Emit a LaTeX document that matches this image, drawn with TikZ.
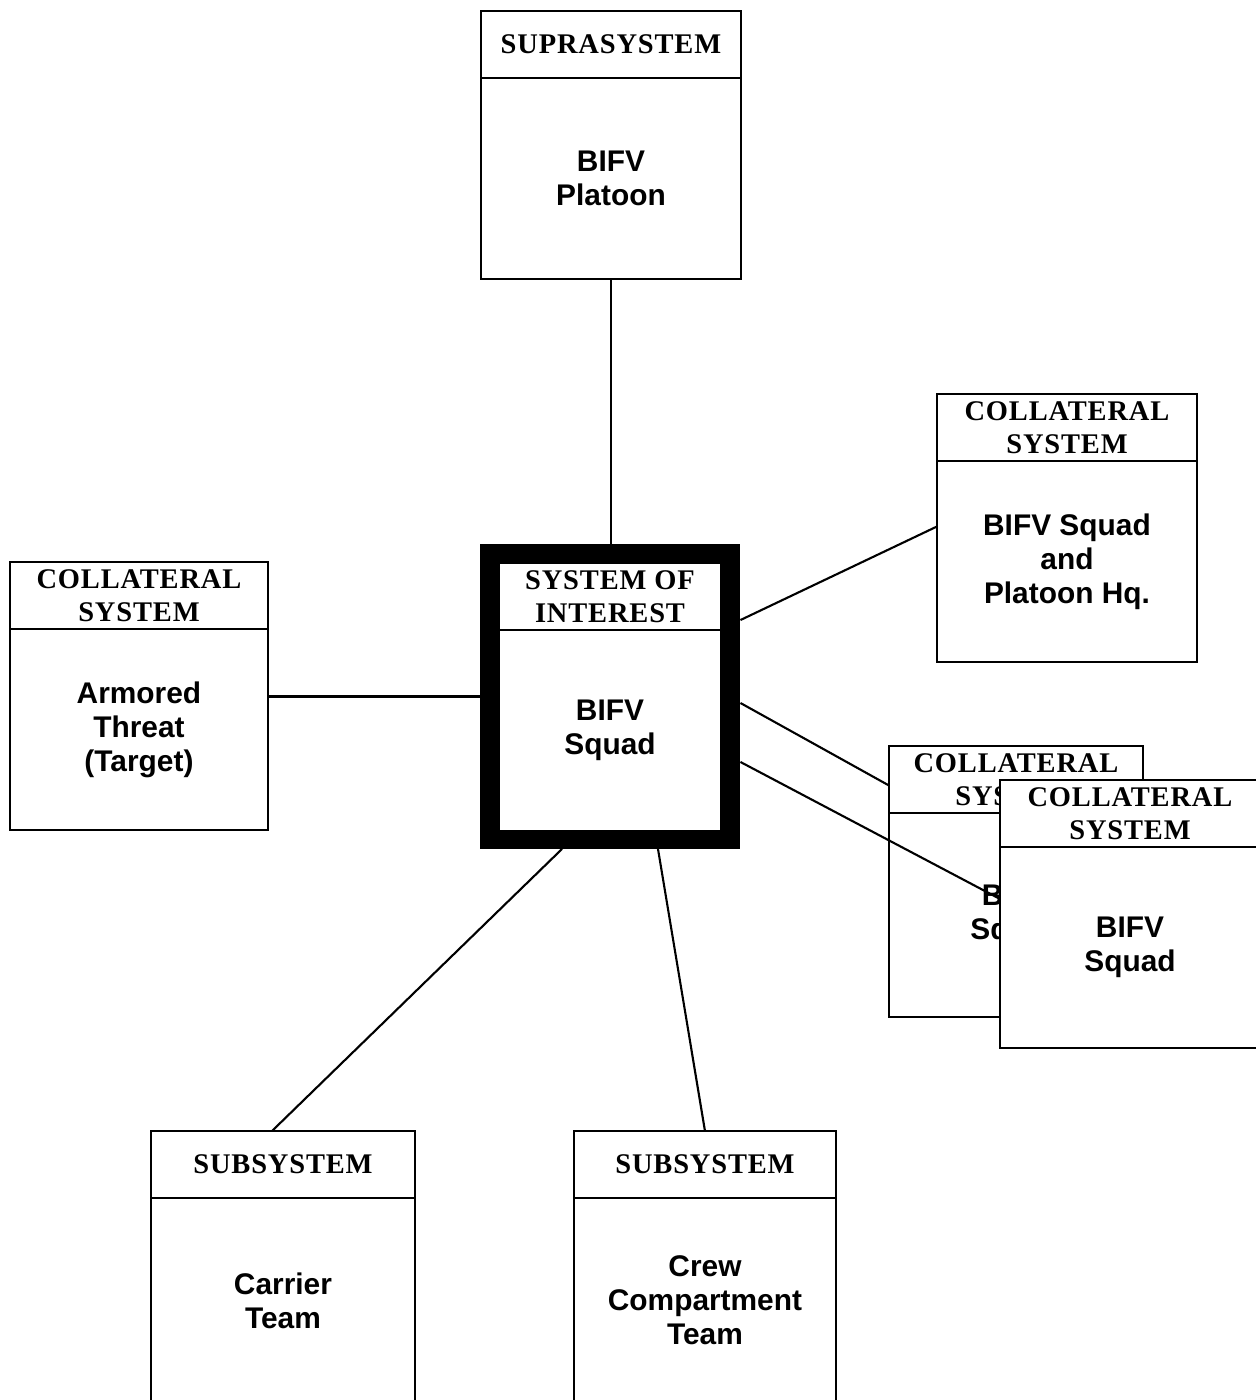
\documentclass[tikz,border=0pt]{standalone}
\usepackage{fontspec}
\setmainfont{Liberation Serif}
\newfontfamily\headfont[LetterSpace=3]{Liberation Serif}
\newfontfamily\bodyfont{Liberation Sans}
\usetikzlibrary{positioning}
\pgfdeclarelayer{behind}
\pgfdeclarelayer{between}
\pgfsetlayers{behind,between,main}

\tikzset{
  head/.style={draw, line width=1.2pt, fill=white, anchor=north west,
    minimum width=5.2cm, minimum height=1.34cm, align=center,
    inner sep=0pt, outer sep=0pt, font=\headfont\fontsize{16.2}{18.5}\selectfont\bfseries},
  body/.style={draw, line width=1.2pt, fill=white,
    minimum width=5.2cm, minimum height=4.02cm, align=center,
    inner sep=0pt, outer sep=0pt, font=\bodyfont\fontsize{17}{19.3}\selectfont\bfseries},
  frame/.style={draw, line width=0.38cm, minimum width=4.84cm,
    minimum height=5.72cm, inner sep=0pt},
  link/.style={line width=1.2pt}
}

\begin{document}
\begin{tikzpicture}[x=0.02cm, y=-0.02cm]
	\useasboundingbox (0,0) rectangle (1256,1400);
	
	% suprasystem
	\node[head] (supra) at (481,11) {SUPRASYSTEM};
	\node[body, below=0pt of supra] (supra-b) {BIFV\\Platoon};
	
	% system of interest
	\node[head, minimum width=4.44cm] (soi-h) at (499,563) {SYSTEM OF\\INTEREST};
	\node[body, minimum width=4.44cm, below=0pt of soi-h] (soi-b) {BIFV\\Squad};
	\node[frame] (soi) at (610,696.5) {};
	
	% collateral systems
	\node[head] (coll-r) at (937,394) {COLLATERAL\\SYSTEM};
	\node[body, below=0pt of coll-r] (coll-r-b) {BIFV Squad\\and\\Platoon Hq.};
	
	\node[head, minimum width=5.16cm] (coll-l) at (10,562) {COLLATERAL\\SYSTEM};
	\node[body, minimum width=5.16cm, below=0pt of coll-l] (coll-l-b) {Armored\\Threat\\(Target)};
	
	\begin{pgfonlayer}{behind}
	\node[head, minimum width=5.08cm] (coll-m) at (889,746) {COLLATERAL\\SYSTEM};
	\node[body, minimum width=5.08cm, minimum height=4.08cm, below=0pt of coll-m] (coll-m-b) {BIFV\\Squad};
	\end{pgfonlayer}
	
	\node[head] (coll-f) at (1000,780) {COLLATERAL\\SYSTEM};
	\node[body, below=0pt of coll-f] (coll-f-b) {BIFV\\Squad};
	
	% subsystems
	\node[head, minimum width=5.28cm] (sub-l) at (151,1131) {SUBSYSTEM};
	\node[body, minimum width=5.28cm, minimum height=4.1cm, below=0pt of sub-l] (sub-l-b) {Carrier\\Team};
	
	\node[head, minimum width=5.24cm] (sub-r) at (574,1131) {SUBSYSTEM};
	\node[body, minimum width=5.24cm, minimum height=4.1cm, below=0pt of sub-r] (sub-r-b) {Crew\\Compartment\\Team};
	
	% links
	\draw[link] (supra-b.south) -- (supra-b.south |- soi.north);
	\draw[link] (soi.west) -- (soi.west -| coll-l-b.east);
	\draw[link] ([yshift=1.53cm]soi.east) -- ([yshift=0.7cm]coll-r-b.west);
	\draw[link] ([yshift=-0.13cm]soi.east) -- ([yshift=-0.12cm]coll-m.west);
	\begin{pgfonlayer}{between}
	\draw[link] ([yshift=-1.31cm]soi.east) -- ([yshift=0.97cm]coll-f-b.west);
	\end{pgfonlayer}
	\draw[link] ([xshift=-0.96cm]soi.south) -- ([xshift=-0.22cm]sub-l.north);
	\draw[link] ([xshift=0.96cm]soi.south) -- (sub-r.north);
\end{tikzpicture}
\end{document}
